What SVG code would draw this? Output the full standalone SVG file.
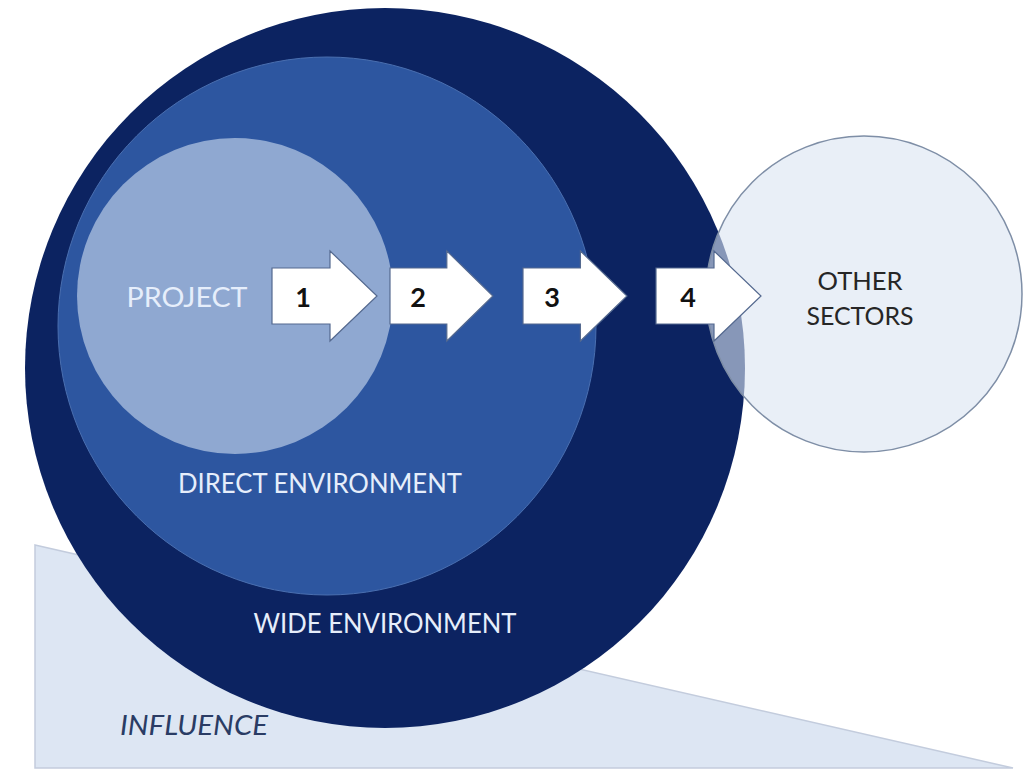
<svg xmlns="http://www.w3.org/2000/svg" width="1028" height="771" viewBox="0 0 1028 771">
<style>
.lbl{font-family:Lato,"Open Sans","Liberation Sans",sans-serif;text-anchor:middle}
.wl{fill:#e6eefb}
.num{font-family:Lato,"Open Sans","Liberation Sans",sans-serif;font-weight:bold;font-size:27px;fill:#111;text-anchor:middle}
.arr{fill:#ffffff;stroke:#54698f;stroke-width:1.2;stroke-linejoin:miter}
</style>
<defs>
<path id="blockArrow" d="M0,-28 H58 V-45 L105,0 L58,45 V28 H0 Z"/>
</defs>
<rect width="1028" height="771" fill="#ffffff"/>
<g id="influence">
<polygon points="35,545 1013,768 35,768" fill="#dde6f3" stroke="#c3ccdd" stroke-width="1.5"/>
<text class="lbl" x="194" y="735" font-size="27" font-style="italic" fill="#2a3c64" textLength="148" lengthAdjust="spacingAndGlyphs">INFLUENCE</text>
</g>
<g id="wide-environment">
<circle cx="385" cy="368" r="360" fill="#0c2361"/>
<text class="lbl wl" x="385" y="633" font-size="27" textLength="263" lengthAdjust="spacingAndGlyphs">WIDE ENVIRONMENT</text>
</g>
<g id="direct-environment">
<circle cx="327" cy="326" r="269" fill="#2d56a0" stroke="#4a6fb0" stroke-width="1"/>
<text class="lbl wl" x="320" y="493" font-size="26" textLength="284" lengthAdjust="spacingAndGlyphs">DIRECT ENVIRONMENT</text>
</g>
<g id="project">
<circle cx="235" cy="296" r="158" fill="#8fa8d1"/>
<text class="lbl wl" x="187" y="307" font-size="27" textLength="121" lengthAdjust="spacingAndGlyphs">PROJECT</text>
</g>
<g id="other-sectors">
<circle cx="864" cy="294" r="158" fill="#dae4f2" fill-opacity="0.6" stroke="#7e8ea6" stroke-width="1.5"/>
<text class="lbl" x="860" y="290" font-size="25" fill="#262626" textLength="85" lengthAdjust="spacingAndGlyphs">OTHER</text>
<text class="lbl" x="860" y="325" font-size="25" fill="#262626" textLength="107" lengthAdjust="spacingAndGlyphs">SECTORS</text>
</g>
<g id="connectors">
<g id="arrow-1">
<use href="#blockArrow" class="arr" transform="translate(272,296)"/>
<text class="num" x="303" y="307">1</text>
</g>
<g id="arrow-2">
<use href="#blockArrow" class="arr" transform="translate(390,296) scale(0.98,1)"/>
<text class="num" x="418" y="307">2</text>
</g>
<g id="arrow-3">
<use href="#blockArrow" class="arr" transform="translate(523,296) scale(0.99,1)"/>
<text class="num" x="552" y="307">3</text>
</g>
<g id="arrow-4">
<use href="#blockArrow" class="arr" transform="translate(656,296)"/>
<text class="num" x="688" y="307">4</text>
</g>
</g>
</svg>
